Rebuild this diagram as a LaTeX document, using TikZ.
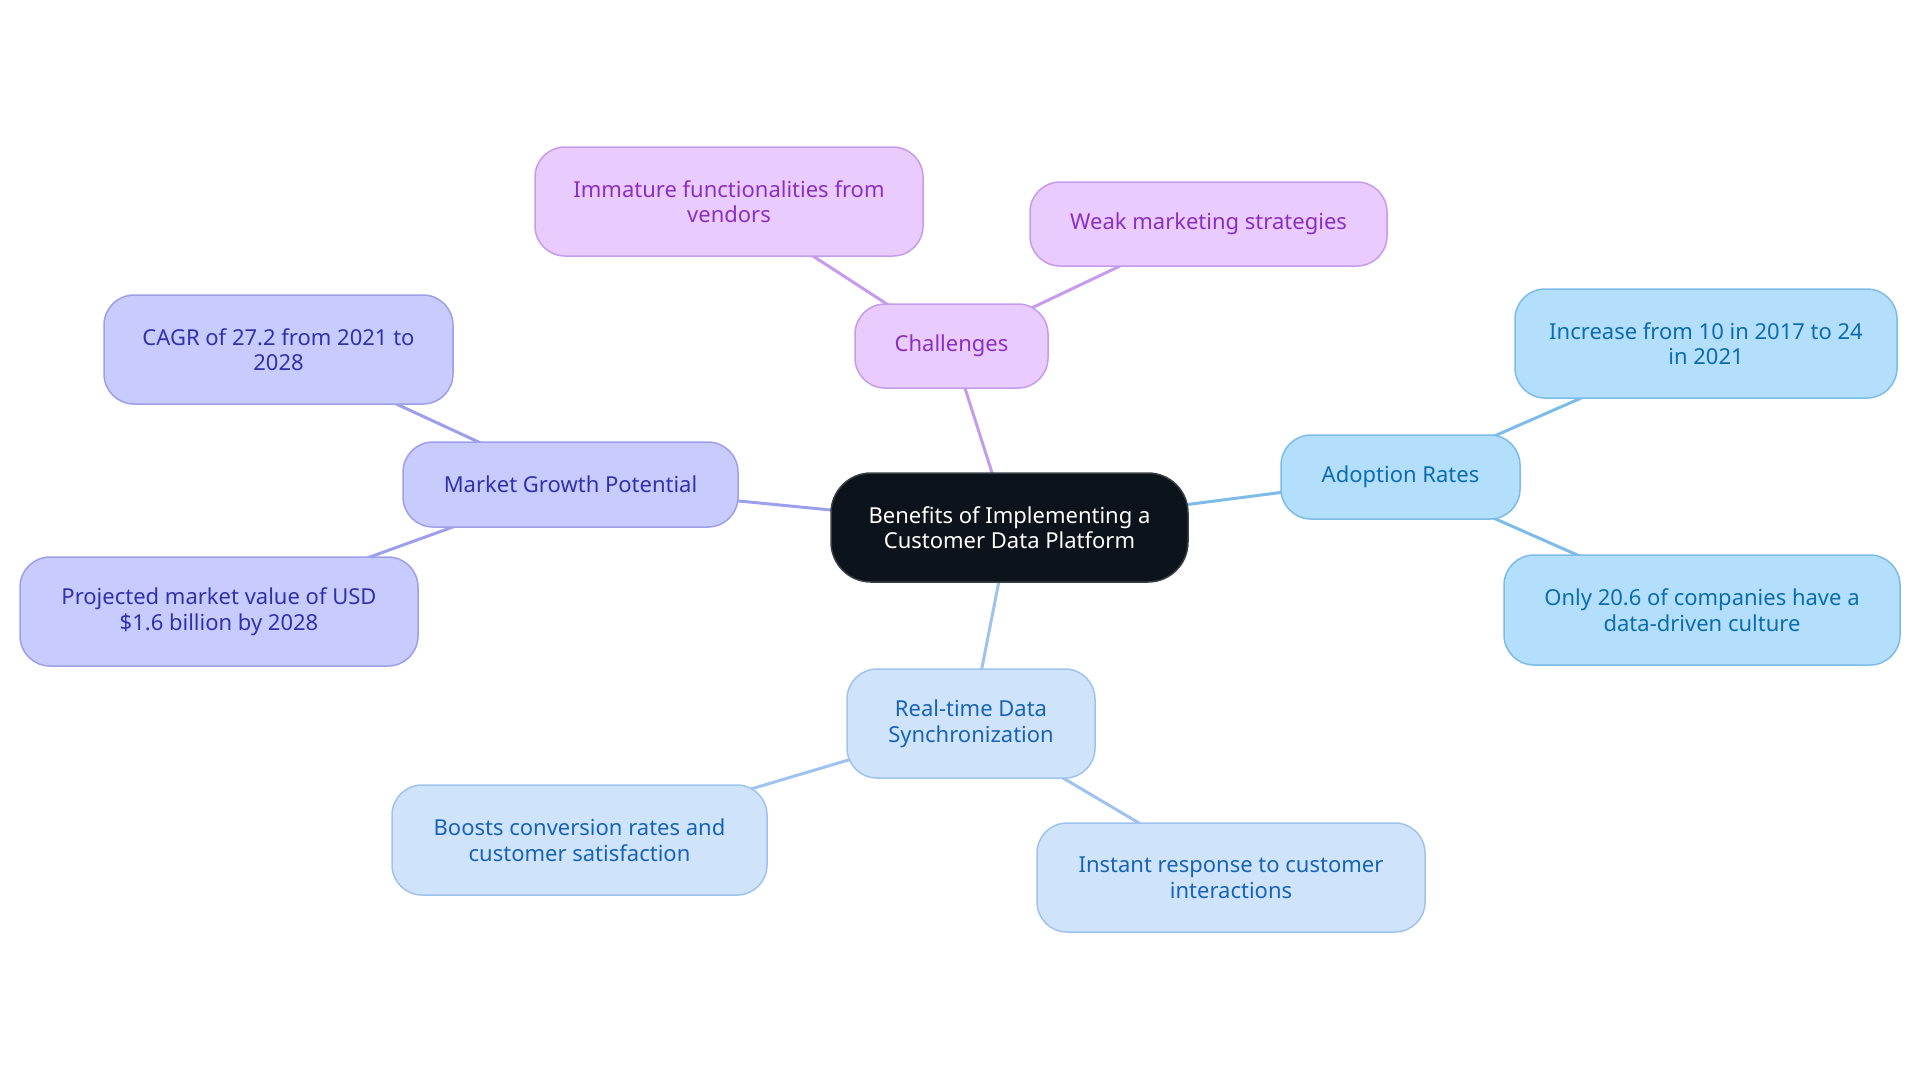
\documentclass[tikz,border=0pt]{standalone}
\usepackage{fontspec}
\setmainfont{Noto Sans}
\usetikzlibrary{backgrounds}
\definecolor{cdark}{HTML}{0D131A}
\definecolor{cdarkb}{HTML}{3A3F45}
\definecolor{pfill}{HTML}{E9CBFD}
\definecolor{pline}{HTML}{C79BEC}
\definecolor{ptext}{HTML}{8A2FC4}
\definecolor{bfill}{HTML}{B3DFFC}
\definecolor{bline}{HTML}{7DBCE9}
\definecolor{btext}{HTML}{0B6CB0}
\definecolor{lfill}{HTML}{CFE4FB}
\definecolor{lline}{HTML}{9EC3EE}
\definecolor{ltext}{HTML}{1763B8}
\definecolor{ifill}{HTML}{C8CBFD}
\definecolor{iline}{HTML}{9D9FEA}
\definecolor{itext}{HTML}{3131AE}
\tikzset{
  box/.style={draw, line width=0.75pt, rounded corners=15pt, align=center,
    font=\fontsize{11}{12.8}\selectfont, inner sep=0pt},
  rootbox/.style={box, fill=cdark, draw=cdarkb, text=white, rounded corners=20pt},
  pbox/.style={box, fill=pfill, draw=pline, text=ptext},
  bbox/.style={box, fill=bfill, draw=bline, text=btext},
  lbox/.style={box, fill=lfill, draw=lline, text=ltext},
  ibox/.style={box, fill=ifill, draw=iline, text=itext},
  edge/.style={line width=1.5pt},
}
\begin{document}
\begin{tikzpicture}[x=0.5pt,y=-0.5pt]
\useasboundingbox (0,0) rectangle (1920,1083);
\node[rootbox, minimum width=178.5pt, minimum height=54.5pt] (root) at (1009.5,527.5) {Benefits of Implementing a\\Customer Data Platform};
\node[pbox, minimum width=96.5pt, minimum height=42pt] (chal) at (951.5,346) {Challenges};
\node[pbox, minimum width=194pt, minimum height=54.5pt] (imm) at (729,201.5) {Immature functionalities from\\vendors};
\node[pbox, minimum width=178.5pt, minimum height=42pt] (weak) at (1208.5,224) {Weak marketing strategies};
\node[bbox, minimum width=119.5pt, minimum height=42pt] (adopt) at (1400.5,477) {Adoption Rates};
\node[bbox, minimum width=191pt, minimum height=54.5pt] (incr) at (1706,343.5) {Increase from 10 in 2017 to 24\\in 2021};
\node[bbox, minimum width=198pt, minimum height=55pt] (only) at (1702,610) {Only 20.6 of companies have a\\data-driven culture};
\node[lbox, minimum width=124pt, minimum height=54.5pt] (real) at (971,723.5) {Real-time Data\\Synchronization};
\node[lbox, minimum width=187.5pt, minimum height=55pt] (boost) at (579.5,840) {Boosts conversion rates and\\customer satisfaction};
\node[lbox, minimum width=194pt, minimum height=54.5pt] (inst) at (1231,877.5) {Instant response to customer\\interactions};
\node[ibox, minimum width=167.5pt, minimum height=42.5pt] (market) at (570.5,484.5) {Market Growth Potential};
\node[ibox, minimum width=174.5pt, minimum height=54.5pt] (cagr) at (278.5,349.5) {CAGR of 27.2 from 2021 to\\2028};
\node[ibox, minimum width=199pt, minimum height=54.5pt] (proj) at (219,611.5) {Projected market value of USD\\\$1.6 billion by 2028};
\begin{scope}[on background layer]
\draw[edge, pline] (root.center) -- (chal.center);
\draw[edge, pline] (chal.center) -- (imm.center);
\draw[edge, pline] (chal.center) -- (weak.center);
\draw[edge, bline] (root.center) -- (adopt.center);
\draw[edge, bline] (adopt.center) -- (incr.center);
\draw[edge, bline] (adopt.center) -- (only.center);
\draw[edge, lline] (root.center) -- (real.center);
\draw[edge, lline] (real.center) -- (boost.center);
\draw[edge, lline] (real.center) -- (inst.center);
\draw[edge, iline] (root.center) -- (market.center);
\draw[edge, iline] (market.center) -- (cagr.center);
\draw[edge, iline] (market.center) -- (proj.center);
\end{scope}
\end{tikzpicture}
\end{document}
